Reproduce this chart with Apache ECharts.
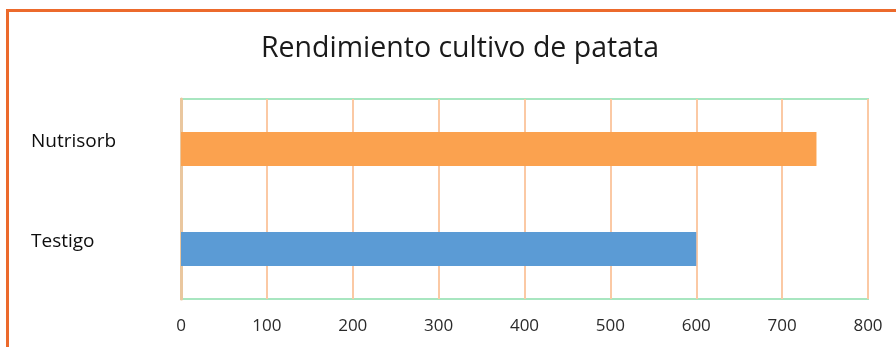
<!DOCTYPE html>
<html>
<head>
<meta charset="utf-8">
<script src="https://cdn.jsdelivr.net/npm/echarts@6/dist/echarts.min.js"></script>
<style>
  html, body { margin: 0; padding: 0; background: #fff; }
  #chart { width: 896px; height: 347px; }
</style>
</head>
<body>
<div id="chart"></div>
<script>
// datos
const categories = ["Testigo", "Nutrisorb"];
const values = [600, 740];
const barColors = ["#5b9bd5", "#fba24f"];
const xTicks = [0, 100, 200, 300, 400, 500, 600, 700, 800];

const chart = echarts.init(document.getElementById("chart"));

const option = {
    backgroundColor: "#ffffff",
    animation: false,
    title: {
        text: "Rendimiento cultivo de patata",
        left: 455,
        top: 29,
        textAlign: "center",
        textStyle: {
            fontFamily: "Open Sans",
            fontWeight: "normal",
            fontSize: 28.5,
            color: "#1a1a1a"
        }
    },
    grid: {
        left: 181,
        top: 99,
        width: 687,
        height: 200,
        show: true,
        borderColor: "#a8e6c0",   // marco verde del área
        borderWidth: 2
    },
    xAxis: {
        type: "value",
        min: 0,
        max: 800,
        interval: 100,
        axisLine: { show: false },
        axisTick: { show: false },
        axisLabel: {
            margin: 19,
            fontFamily: "Open Sans",
            fontSize: 17,
            color: "#2a2a2a",
            formatter: v => xTicks.indexOf(v) >= 0 ? String(v) : ""
        },
        splitLine: {
            lineStyle: { color: "#fbc9a4", width: 2 }
        }
    },
    yAxis: {
        type: "category",
        data: categories,
        axisTick: { show: false },
        axisLine: {
            show: true,
            lineStyle: { color: "#eac79f", width: 3 }
        },
        axisLabel: {
            align: "left",
            verticalAlign: "bottom",
            lineHeight: 14,
            margin: 150,
            fontFamily: "Open Sans",
            fontSize: 19,
            color: "#0d0d0d"
        }
    },
    series: [{
        type: "bar",
        data: values.map((v, i) => ({ value: v, itemStyle: { color: barColors[i] } })),
        barWidth: 34
    }],
    graphic: [{
        type: "rect",
        silent: true,
        shape: { x: 7.5, y: 10.5, width: 1000, height: 500 },
        style: { fill: "none", stroke: "#ec6a2c", lineWidth: 3 }
    }]
};

chart.setOption(option);
</script>
</body>
</html>
